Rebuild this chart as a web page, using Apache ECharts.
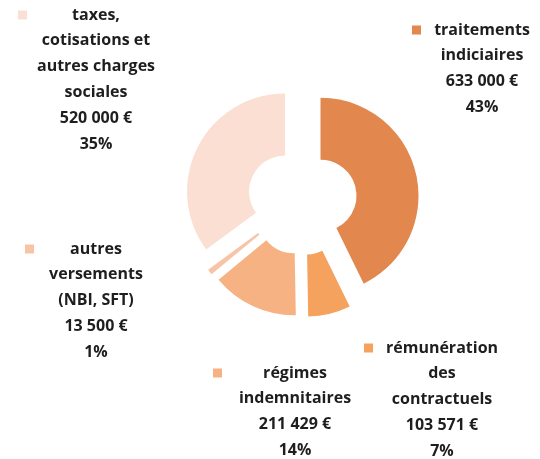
<!DOCTYPE html>
<html>
<head>
<meta charset="utf-8">
<title>charges de personnel</title>
<script src="https://cdn.jsdelivr.net/npm/echarts@6/dist/echarts.min.js"></script>
<style>
    html, body { margin: 0; padding: 0; background: #fff; }
    #pie_chart { width: 540px; height: 459px; }
</style>
</head>
<body>
<div id="pie_chart"></div>
<script>
// données du graphique
var names = ['traitements indiciaires', 'rémunération des contractuels', 'régimes indemnitaires', 'autres versements (NBI, SFT)', 'taxes, cotisations et autres charges sociales'];
var values = [633000, 103571, 211429, 13500, 520000];
// libellés coupés comme sur l'original
var nameLines = [
    ['traitements', 'indiciaires'],
    ['rémunération', 'des', 'contractuels'],
    ['régimes', 'indemnitaires'],
    ['autres', 'versements', '(NBI, SFT)'],
    ['taxes,', 'cotisations et', 'autres charges', 'sociales']
];
var colors = ['#E2874D', '#F4A25E', '#F6B283', '#F7C4A8', '#FADFD2'];
// position des étiquettes : [gauche du carré, milieu de la 1re ligne, centre du texte]
var labelPos = [[412, 30, 482], [364, 348, 442], [213, 373, 295], [25, 249, 96], [18, 15, 96]];
var lineH = 25.8;

function fmtEuro(v) {
    return String(v).replace(/\B(?=(\d{3})+(?!\d))/g, ' ') + ' €';
}

//étiquettes façon excel : carré de couleur + texte centré
function buildLabels() {
    var total = 0;
    for (var j = 0; j < values.length; j++) { total += values[j]; }
    var els = [];
    for (var i = 0; i < values.length; i++) {
        var pos = labelPos[i];
        var lines = nameLines[i].concat([fmtEuro(values[i]), Math.round(values[i] / total * 100) + '%']);
        els.push({
            type: 'rect',
            shape: { x: pos[0], y: pos[1] - 4.5, width: 9, height: 9 },
            style: { fill: colors[i] },
            silent: true
        });
        els.push({
            type: 'text',
            silent: true,
            style: {
                x: pos[2],
                y: pos[1] - lineH / 2,
                text: lines.join('\n'),
                align: 'center',
                verticalAlign: 'top',
                lineHeight: lineH,
                fontFamily: 'Open Sans',
                fontWeight: 'bold',
                fontSize: 16,
                fill: '#1e1e1e'
            }
        });
    }
    return els;
}

function drawPie() {
    var myChart = echarts.init(document.getElementById('pie_chart'));
    var data = [];
    for (var i = 0; i < values.length; i++) {
        data.push({ name: names[i], value: values[i], selected: true, itemStyle: { color: colors[i] } });
    }
    var option = {
        animation: false,
        graphic: buildLabels(),
        series: [{
            type: 'pie',
            center: [302, 200],
            radius: [36, 98],
            startAngle: 90,
            clockwise: true,
            selectedMode: 'multiple',
            selectedOffset: 19,
            select: { itemStyle: { borderWidth: 0 } },
            emphasis: { disabled: true },
            label: { show: false },
            labelLine: { show: false },
            data: data
        }]
    };
    myChart.setOption(option);
}

drawPie();
</script>
</body>
</html>
